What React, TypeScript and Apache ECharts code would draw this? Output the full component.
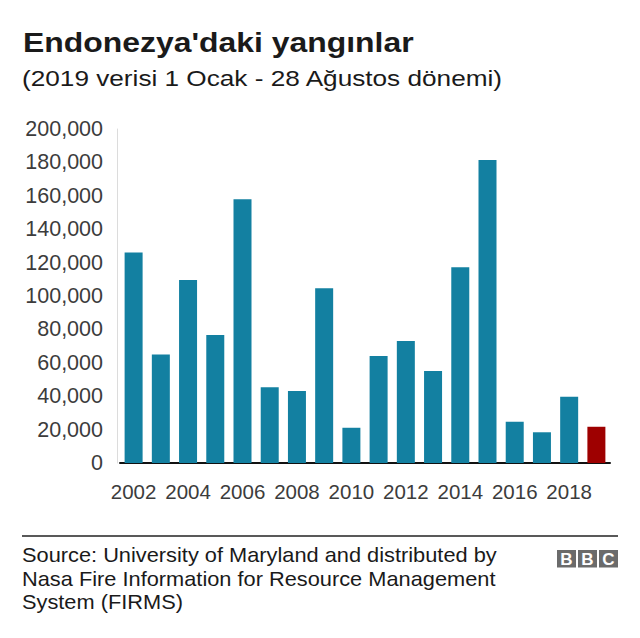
import React, { useEffect, useRef } from "react";
import * as echarts from "echarts";

const years = ["2002","2003","2004","2005","2006","2007","2008","2009","2010","2011","2012","2013","2014","2015","2016","2017","2018","2019"];
const fires = [126000, 65000, 109600, 76600, 157900, 45300, 43100, 104600, 21100, 64100, 73100, 55100, 117200, 181400, 24700, 18400, 39700, 21700];
const highlightYear = "2019";
const titleText = "Endonezya'daki yangınlar";
const subtitleText = "(2019 verisi 1 Ocak - 28 Ağustos dönemi)";
const sourceLines = [
  "Source: University of Maryland and distributed by",
  "Nasa Fire Information for Resource Management",
  "System (FIRMS)",
];
const logoLetters = ["B", "B", "C"];

const FONT = "'Liberation Sans', Arial, Helvetica, sans-serif";

export default function App() {
  const ref = useRef<HTMLDivElement>(null);
  useEffect(() => {
    if (!ref.current) return;
    const chart = echarts.init(ref.current, null, { renderer: "svg" });
    const graphics: any[] = [
      {
        type: "text",
        x: 23,
        y: 42.5,
        scaleX: 1.14,
        style: { text: titleText, font: `bold 28px ${FONT}`, fill: "#1a1a1a", verticalAlign: "middle", align: "left" },
      },
      {
        type: "text",
        x: 22,
        y: 78,
        scaleX: 1.19,
        style: { text: subtitleText, font: `22px ${FONT}`, fill: "#1a1a1a", verticalAlign: "middle", align: "left" },
      },
      {
        type: "line",
        shape: { x1: 22, y1: 536, x2: 618, y2: 536 },
        style: { stroke: "#222", lineWidth: 1.5 },
      },
    ];
    sourceLines.forEach((t, i) => {
      graphics.push({
        type: "text",
        x: 22,
        y: 555 + i * 23.5,
        scaleX: 1.09,
        style: { text: t, font: `20px ${FONT}`, fill: "#1a1a1a", verticalAlign: "middle", align: "left" },
      });
    });
    logoLetters.forEach((l, i) => {
      const x0 = 557 + i * 21;
      graphics.push({
        type: "rect",
        shape: { x: x0, y: 550, width: 19, height: 17.5 },
        style: { fill: "#6b6b6b" },
      });
      graphics.push({
        type: "text",
        x: x0 + 9.5,
        y: 559.5,
        style: { text: l, font: `bold 17px ${FONT}`, fill: "#fff", align: "center", verticalAlign: "middle" },
      });
    });

    chart.setOption({
      animation: false,
      backgroundColor: "#fff",
      grid: { left: 120, right: 30, top: 129, bottom: 175, containLabel: false },
      xAxis: {
        type: "category",
        data: years,
        axisTick: { show: false },
        axisLine: { lineStyle: { color: "#111", width: 2 } },
        axisLabel: { interval: 1, fontSize: 20.5, color: "#3c3c3c", fontFamily: FONT, margin: 18 },
      },
      yAxis: {
        type: "value",
        min: 0,
        max: 200000,
        interval: 20000,
        offset: 3,
        axisLine: { show: true, lineStyle: { color: "#dcdcdc", width: 1 } },
        axisTick: { show: false },
        splitLine: { show: false },
        axisLabel: {
          fontSize: 21.5,
          color: "#3c3c3c",
          fontFamily: FONT,
          margin: 14,
          formatter: (v: number) => v.toLocaleString("en-US"),
        },
      },
      series: [
        {
          type: "bar",
          barWidth: 18,
          data: fires.map((v, i) => ({
            value: v,
            itemStyle: { color: years[i] === highlightYear ? "#9e0000" : "#1380a1" },
          })),
        },
      ],
      graphic: graphics,
    });
    return () => chart.dispose();
  }, []);
  return (
    <div
      ref={ref}
      style={{ position: "fixed", left: 0, top: 0, width: 640, height: 638 }}
    />
  );
}
